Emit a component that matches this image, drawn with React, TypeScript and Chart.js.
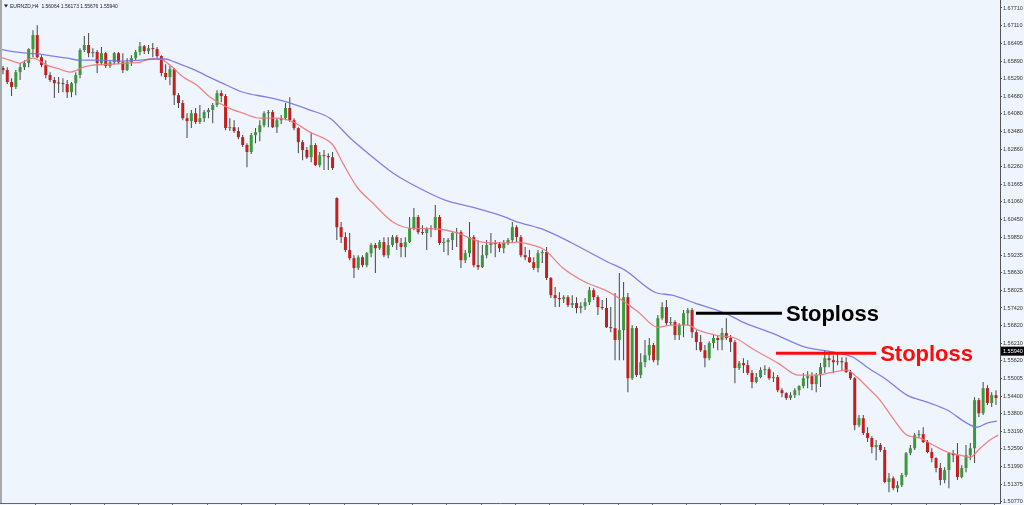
import React, { useEffect, useRef } from 'react';
import { Chart, registerables } from 'chart.js';

Chart.register(...registerables);

// ---------- header / axis text ----------
const headerSymbol = 'EURNZD,H4';
const headerQuotes = ['1.56064', '1.56173', '1.55676', '1.55940'];
const yTickLabels = [
  '1.67710', '1.67110', '1.66495', '1.65890', '1.65290', '1.64680', '1.64080', '1.63480',
  '1.62860', '1.62260', '1.61665', '1.61060', '1.60450', '1.59850', '1.59235', '1.58630',
  '1.58025', '1.57420', '1.56820', '1.56210', '1.55620', '1.55005', '1.54400', '1.53800',
  '1.53190', '1.52590', '1.51990', '1.51375', '1.50770',
];
const currentPrice = 1.5594;
const currentPriceLabel = '1.55940';

// ---------- candles (H4 EURNZD) ----------
const candleClose = [
  1.6558, 1.6517, 1.6500, 1.6551, 1.6568, 1.6582, 1.6630, 1.6678, 1.6602, 1.6575,
  1.6541, 1.6524, 1.6513, 1.6512, 1.6510, 1.6482, 1.6513, 1.6541, 1.6627, 1.6644,
  1.6616, 1.6620, 1.6582, 1.6616, 1.6572, 1.6585, 1.6616, 1.6585, 1.6558, 1.6585,
  1.6599, 1.6620, 1.6640, 1.6623, 1.6633, 1.6630, 1.6606, 1.6548, 1.6534, 1.6561,
  1.6472, 1.6445, 1.6393, 1.6383, 1.6410, 1.6380, 1.6393, 1.6414, 1.6421, 1.6438,
  1.6479, 1.6469, 1.6359, 1.6362, 1.6349, 1.6328, 1.6301, 1.6277, 1.6335, 1.6345,
  1.6369, 1.6410, 1.6414, 1.6362, 1.6386, 1.6393, 1.6428, 1.6386, 1.6359, 1.6311,
  1.6284, 1.6259, 1.6301, 1.6232, 1.6266, 1.6263, 1.6259, 1.6222, 1.6019, 1.5985,
  1.5941, 1.5913, 1.5879, 1.5916, 1.5889, 1.5930, 1.5958, 1.5947, 1.5968, 1.5923,
  1.5958, 1.5985, 1.5965, 1.5951, 1.5968, 1.6016, 1.6054, 1.6002, 1.5999, 1.6013,
  1.6016, 1.6054, 1.5965, 1.5968, 1.5975, 1.5999, 1.6002, 1.5906, 1.5930, 1.5985,
  1.5889, 1.5882, 1.5923, 1.5958, 1.5965, 1.5961, 1.5947, 1.5965, 1.5975, 1.6019,
  1.5985, 1.5923, 1.5916, 1.5899, 1.5879, 1.5930, 1.5934, 1.5845, 1.5786, 1.5776,
  1.5772, 1.5779, 1.5752, 1.5759, 1.5742, 1.5748, 1.5762, 1.5803, 1.5779, 1.5745,
  1.5742, 1.5676, 1.5673, 1.5632, 1.5666, 1.5779, 1.5501, 1.5673, 1.5512, 1.5556,
  1.5580, 1.5615, 1.5563, 1.5707, 1.5745, 1.5690, 1.5694, 1.5649, 1.5683, 1.5724,
  1.5735, 1.5659, 1.5625, 1.5597, 1.5570, 1.5622, 1.5639, 1.5632, 1.5656, 1.5639,
  1.5625, 1.5536, 1.5553, 1.5546, 1.5519, 1.5488, 1.5505, 1.5529, 1.5532, 1.5501,
  1.5505, 1.5460, 1.5450, 1.5433, 1.5443, 1.5460, 1.5474, 1.5501, 1.5508, 1.5481,
  1.5512, 1.5539, 1.5570, 1.5563, 1.5556, 1.5560, 1.5556, 1.5522, 1.5501, 1.5340,
  1.5364, 1.5313, 1.5296, 1.5265, 1.5272, 1.5255, 1.5145, 1.5158, 1.5124, 1.5134,
  1.5169, 1.5244, 1.5261, 1.5306, 1.5309, 1.5282, 1.5248, 1.5227, 1.5193, 1.5152,
  1.5186, 1.5244, 1.5237, 1.5162, 1.5193, 1.5237, 1.5261, 1.5426, 1.5381, 1.5467,
  1.5416, 1.5443, 1.5433,
];

const candleOpen = [
  1.6565, 1.6558, 1.6517, 1.6500, 1.6551, 1.6568, 1.6582, 1.6630, 1.6678, 1.6602,
  1.6575, 1.6541, 1.6524, 1.6513, 1.6512, 1.6510, 1.6482, 1.6513, 1.6541, 1.6627,
  1.6644, 1.6616, 1.6620, 1.6582, 1.6616, 1.6572, 1.6585, 1.6616, 1.6585, 1.6558,
  1.6585, 1.6599, 1.6620, 1.6640, 1.6623, 1.6633, 1.6630, 1.6606, 1.6548, 1.6534,
  1.6561, 1.6472, 1.6445, 1.6393, 1.6383, 1.6410, 1.6380, 1.6393, 1.6414, 1.6421,
  1.6438, 1.6479, 1.6469, 1.6359, 1.6362, 1.6349, 1.6328, 1.6301, 1.6277, 1.6335,
  1.6345, 1.6369, 1.6410, 1.6414, 1.6362, 1.6386, 1.6393, 1.6428, 1.6386, 1.6359,
  1.6311, 1.6284, 1.6259, 1.6301, 1.6232, 1.6266, 1.6263, 1.6259, 1.6119, 1.6019,
  1.5985, 1.5941, 1.5913, 1.5879, 1.5916, 1.5889, 1.5930, 1.5958, 1.5947, 1.5968,
  1.5923, 1.5958, 1.5985, 1.5965, 1.5951, 1.5968, 1.6016, 1.6054, 1.6002, 1.5999,
  1.6013, 1.6016, 1.6054, 1.5965, 1.5968, 1.5975, 1.5999, 1.6002, 1.5906, 1.5930,
  1.5985, 1.5889, 1.5882, 1.5923, 1.5958, 1.5965, 1.5961, 1.5947, 1.5965, 1.5975,
  1.6019, 1.5985, 1.5923, 1.5916, 1.5899, 1.5879, 1.5930, 1.5934, 1.5845, 1.5786,
  1.5776, 1.5772, 1.5779, 1.5752, 1.5759, 1.5742, 1.5748, 1.5762, 1.5803, 1.5779,
  1.5745, 1.5742, 1.5676, 1.5673, 1.5632, 1.5666, 1.5779, 1.5501, 1.5673, 1.5512,
  1.5556, 1.5580, 1.5615, 1.5563, 1.5707, 1.5745, 1.5690, 1.5694, 1.5649, 1.5683,
  1.5724, 1.5735, 1.5659, 1.5625, 1.5597, 1.5570, 1.5622, 1.5639, 1.5632, 1.5656,
  1.5639, 1.5625, 1.5536, 1.5553, 1.5546, 1.5519, 1.5488, 1.5505, 1.5529, 1.5532,
  1.5501, 1.5505, 1.5460, 1.5450, 1.5433, 1.5443, 1.5460, 1.5474, 1.5501, 1.5508,
  1.5481, 1.5512, 1.5539, 1.5570, 1.5563, 1.5556, 1.5560, 1.5556, 1.5522, 1.5501,
  1.5340, 1.5364, 1.5313, 1.5296, 1.5265, 1.5272, 1.5255, 1.5145, 1.5158, 1.5124,
  1.5134, 1.5169, 1.5244, 1.5261, 1.5306, 1.5309, 1.5282, 1.5248, 1.5227, 1.5193,
  1.5152, 1.5186, 1.5244, 1.5237, 1.5162, 1.5193, 1.5237, 1.5261, 1.5426, 1.5381,
  1.5467, 1.5416, 1.5443,
];

const candleHigh = [
  1.6572, 1.6568, 1.6530, 1.6558, 1.6582, 1.6592, 1.6633, 1.6695, 1.6712, 1.6609,
  1.6592, 1.6551, 1.6534, 1.6534, 1.6530, 1.6524, 1.6517, 1.6551, 1.6633, 1.6675,
  1.6685, 1.6633, 1.6627, 1.6637, 1.6620, 1.6592, 1.6620, 1.6620, 1.6616, 1.6599,
  1.6609, 1.6627, 1.6654, 1.6644, 1.6644, 1.6651, 1.6637, 1.6609, 1.6578, 1.6572,
  1.6565, 1.6479, 1.6455, 1.6410, 1.6421, 1.6428, 1.6438, 1.6421, 1.6428, 1.6445,
  1.6489, 1.6489, 1.6476, 1.6393, 1.6386, 1.6362, 1.6335, 1.6307, 1.6342, 1.6359,
  1.6386, 1.6417, 1.6421, 1.6421, 1.6393, 1.6404, 1.6445, 1.6465, 1.6393, 1.6362,
  1.6318, 1.6294, 1.6345, 1.6307, 1.6277, 1.6284, 1.6273, 1.6277, 1.6122, 1.6037,
  1.6002, 1.5999, 1.5923, 1.5923, 1.5923, 1.5934, 1.5965, 1.5965, 1.5975, 1.5985,
  1.5985, 1.5992, 1.5992, 1.5982, 1.5985, 1.6054, 1.6085, 1.6061, 1.6026, 1.6019,
  1.6026, 1.6095, 1.6061, 1.5982, 1.5982, 1.6002, 1.6016, 1.6009, 1.5941, 1.6037,
  1.5992, 1.5975, 1.5958, 1.5975, 1.5999, 1.5975, 1.5968, 1.5975, 1.5982, 1.6037,
  1.6026, 1.5992, 1.5951, 1.5941, 1.5916, 1.5941, 1.5941, 1.5951, 1.5848, 1.5814,
  1.5796, 1.5786, 1.5786, 1.5786, 1.5779, 1.5762, 1.5776, 1.5814, 1.5810, 1.5786,
  1.5769, 1.5776, 1.5745, 1.5793, 1.5862, 1.5831, 1.5793, 1.5683, 1.5680, 1.5587,
  1.5632, 1.5639, 1.5622, 1.5718, 1.5762, 1.5769, 1.5711, 1.5700, 1.5690, 1.5735,
  1.5742, 1.5742, 1.5666, 1.5649, 1.5615, 1.5628, 1.5649, 1.5646, 1.5673, 1.5707,
  1.5649, 1.5632, 1.5560, 1.5570, 1.5563, 1.5529, 1.5519, 1.5539, 1.5546, 1.5539,
  1.5522, 1.5512, 1.5467, 1.5453, 1.5453, 1.5467, 1.5477, 1.5519, 1.5525, 1.5522,
  1.5519, 1.5553, 1.5597, 1.5591, 1.5580, 1.5587, 1.5573, 1.5573, 1.5529, 1.5505,
  1.5375, 1.5375, 1.5333, 1.5302, 1.5289, 1.5279, 1.5265, 1.5176, 1.5165, 1.5148,
  1.5176, 1.5248, 1.5272, 1.5313, 1.5323, 1.5333, 1.5289, 1.5261, 1.5230, 1.5210,
  1.5196, 1.5248, 1.5255, 1.5279, 1.5203, 1.5272, 1.5279, 1.5436, 1.5433, 1.5488,
  1.5477, 1.5453, 1.5460,
];

const candleLow = [
  1.6544, 1.6510, 1.6469, 1.6493, 1.6524, 1.6558, 1.6568, 1.6602, 1.6599, 1.6568,
  1.6530, 1.6517, 1.6462, 1.6479, 1.6482, 1.6462, 1.6465, 1.6472, 1.6530, 1.6620,
  1.6602, 1.6602, 1.6548, 1.6575, 1.6565, 1.6565, 1.6578, 1.6578, 1.6548, 1.6555,
  1.6572, 1.6592, 1.6609, 1.6613, 1.6613, 1.6602, 1.6599, 1.6537, 1.6524, 1.6506,
  1.6438, 1.6428, 1.6386, 1.6325, 1.6359, 1.6373, 1.6373, 1.6380, 1.6393, 1.6376,
  1.6431, 1.6448, 1.6352, 1.6349, 1.6342, 1.6321, 1.6294, 1.6225, 1.6270, 1.6307,
  1.6314, 1.6362, 1.6362, 1.6359, 1.6342, 1.6373, 1.6386, 1.6380, 1.6352, 1.6273,
  1.6249, 1.6253, 1.6242, 1.6229, 1.6225, 1.6215, 1.6215, 1.6215, 1.5975, 1.5965,
  1.5934, 1.5906, 1.5845, 1.5872, 1.5882, 1.5882, 1.5916, 1.5862, 1.5941, 1.5916,
  1.5913, 1.5951, 1.5941, 1.5916, 1.5916, 1.5965, 1.6009, 1.5995, 1.5992, 1.5941,
  1.5985, 1.6009, 1.5958, 1.5934, 1.5923, 1.5941, 1.5951, 1.5879, 1.5896, 1.5916,
  1.5882, 1.5872, 1.5879, 1.5913, 1.5930, 1.5916, 1.5934, 1.5930, 1.5958, 1.5968,
  1.5968, 1.5916, 1.5906, 1.5896, 1.5872, 1.5865, 1.5896, 1.5838, 1.5776, 1.5745,
  1.5745, 1.5759, 1.5745, 1.5742, 1.5724, 1.5724, 1.5735, 1.5752, 1.5769, 1.5718,
  1.5735, 1.5673, 1.5659, 1.5563, 1.5563, 1.5563, 1.5453, 1.5495, 1.5505, 1.5501,
  1.5539, 1.5563, 1.5556, 1.5546, 1.5700, 1.5683, 1.5683, 1.5632, 1.5632, 1.5642,
  1.5683, 1.5639, 1.5597, 1.5591, 1.5539, 1.5563, 1.5604, 1.5597, 1.5597, 1.5632,
  1.5591, 1.5484, 1.5529, 1.5519, 1.5512, 1.5467, 1.5484, 1.5501, 1.5512, 1.5495,
  1.5488, 1.5453, 1.5436, 1.5426, 1.5426, 1.5433, 1.5443, 1.5467, 1.5467, 1.5460,
  1.5453, 1.5471, 1.5519, 1.5539, 1.5519, 1.5546, 1.5529, 1.5519, 1.5495, 1.5323,
  1.5333, 1.5306, 1.5282, 1.5244, 1.5220, 1.5248, 1.5141, 1.5110, 1.5117, 1.5110,
  1.5128, 1.5162, 1.5237, 1.5255, 1.5296, 1.5279, 1.5244, 1.5213, 1.5179, 1.5134,
  1.5141, 1.5124, 1.5213, 1.5152, 1.5158, 1.5179, 1.5220, 1.5210, 1.5368, 1.5375,
  1.5409, 1.5402, 1.5409,
];

// ---------- moving averages (x = bar number) ----------
const maSlowBar = [
  -0.6, 1.6, 5.6, 8.6, 11.7, 15.0, 18.0, 22.7, 27.3, 32.0,
  35.5, 37.9, 40.2, 42.5, 44.9, 47.2, 50.7, 56.1, 61.7, 66.4,
  71.7, 76.4, 81.1, 86.4, 91.1, 95.1, 103.3, 109.6, 117.3, 119.6,
  126.6, 132.9, 141.4, 145.3, 152.3, 156.3, 161.7, 168.7, 173.4, 179.7,
  187.4, 193.9, 198.6, 201.9, 206.5, 211.2, 215.9, 220.6, 225.2, 227.6,
  229.9, 232.2,
];
const maSlowValue = [
  1.6630, 1.6623, 1.6616, 1.6613, 1.6606, 1.6599, 1.6592, 1.6592, 1.6589, 1.6592,
  1.6596, 1.6596, 1.6585, 1.6572, 1.6558, 1.6541, 1.6517, 1.6482, 1.6465, 1.6448,
  1.6421, 1.6393, 1.6325, 1.6259, 1.6205, 1.6170, 1.6112, 1.6088, 1.6054, 1.6040,
  1.6009, 1.5965, 1.5899, 1.5872, 1.5796, 1.5786, 1.5759, 1.5724, 1.5690, 1.5656,
  1.5608, 1.5591, 1.5573, 1.5539, 1.5495, 1.5443, 1.5419, 1.5392, 1.5347, 1.5333,
  1.5347, 1.5354,
];
const maFastBar = [
  -0.6, 1.6, 4.0, 5.6, 7.0, 8.6, 10.3, 13.3, 15.7, 17.3,
  18.7, 21.0, 25.0, 29.0, 32.0, 34.3, 36.7, 39.0, 42.1, 45.3,
  48.4, 52.3, 56.1, 60.0, 64.0, 67.8, 71.7, 75.7, 77.1, 79.4,
  82.7, 86.4, 91.1, 95.1, 101.6, 106.3, 111.9, 117.3, 120.3, 123.6,
  126.6, 130.6, 136.0, 140.7, 144.6, 148.4, 153.0, 156.3, 160.0, 162.4,
  166.4, 171.0, 175.7, 181.1, 185.7, 190.2, 193.9, 197.2, 199.5, 201.9,
  204.9, 207.9, 211.2, 214.3, 217.3, 220.6, 223.6, 225.9, 228.3, 230.6,
  232.5,
];
const maFastValue = [
  1.6602, 1.6592, 1.6582, 1.6592, 1.6599, 1.6589, 1.6575, 1.6561, 1.6551, 1.6558,
  1.6568, 1.6575, 1.6578, 1.6582, 1.6585, 1.6596, 1.6596, 1.6575, 1.6534, 1.6506,
  1.6465, 1.6431, 1.6410, 1.6393, 1.6393, 1.6380, 1.6345, 1.6318, 1.6301, 1.6239,
  1.6157, 1.6102, 1.6037, 1.6016, 1.6013, 1.5999, 1.5968, 1.5965, 1.5968, 1.5958,
  1.5941, 1.5882, 1.5831, 1.5803, 1.5769, 1.5728, 1.5676, 1.5683, 1.5683, 1.5666,
  1.5649, 1.5639, 1.5597, 1.5553, 1.5512, 1.5512, 1.5522, 1.5529, 1.5505, 1.5471,
  1.5426, 1.5364, 1.5306, 1.5296, 1.5272, 1.5248, 1.5237, 1.5230, 1.5261, 1.5289,
  1.5306,
];

// ---------- stoploss annotations ----------
const stoplossText = ['Stoploss', 'Stoploss'];
const stoplossPrice = [1.5724, 1.5587];
const stoplossFromBar = [161.9, 180.6];
const stoplossToBar = [182.0, 204.0];
const stoplossColor = ['#000000', '#ff0a0a'];

// ---------- styling ----------
const BG = '#eff5fc';
const BULL = '#3b983b';
const BEAR = '#c41f1f';
const WICK = '#444444';
const FONT = "'Liberation Sans', Arial, sans-serif";

const overlayPlugin = {
  id: 'overlay',
  beforeDraw(chart: any) {
    const { ctx, width, height } = chart;
    ctx.save();
    ctx.fillStyle = BG;
    ctx.fillRect(0, 0, width, height);
    ctx.restore();
  },
  afterDatasetsDraw(chart: any) {
    const { ctx, chartArea } = chart;
    const xs = chart.scales.x;
    const ys = chart.scales.y;
    ctx.save();
    // left frame
    ctx.fillStyle = '#a9a9a9';
    ctx.fillRect(0, 0, 2, chartArea.bottom);
    // header
    ctx.fillStyle = '#222';
    ctx.beginPath();
    ctx.moveTo(4, 4.5);
    ctx.lineTo(8, 4.5);
    ctx.lineTo(6, 7.5);
    ctx.closePath();
    ctx.fill();
    ctx.font = `5px ${FONT}`;
    ctx.textBaseline = 'alphabetic';
    ctx.fillText(headerSymbol + '  ' + headerQuotes.join(' '), 10, 8);
    // stoploss annotations
    for (let i = 0; i < stoplossText.length; i++) {
      const x1 = xs.getPixelForValue(stoplossFromBar[i]);
      const x2 = xs.getPixelForValue(stoplossToBar[i]);
      const py = ys.getPixelForValue(stoplossPrice[i]);
      ctx.strokeStyle = stoplossColor[i];
      ctx.lineWidth = 3;
      ctx.beginPath();
      ctx.moveTo(x1, py);
      ctx.lineTo(x2, py);
      ctx.stroke();
      ctx.fillStyle = stoplossColor[i];
      ctx.font = `bold 22px ${FONT}`;
      ctx.textBaseline = 'alphabetic';
      ctx.fillText(stoplossText[i], x2 + 4, py + 7.8);
    }
    ctx.restore();
  },
  afterDraw(chart: any) {
    const { ctx, chartArea } = chart;
    const ys = chart.scales.y;
    const py = ys.getPixelForValue(currentPrice);
    ctx.save();
    ctx.fillStyle = '#000';
    ctx.fillRect(chartArea.right + 1, py - 4.5, 23, 9);
    ctx.fillStyle = '#fff';
    ctx.font = `5.5px ${FONT}`;
    ctx.textBaseline = 'middle';
    ctx.fillText(currentPriceLabel, chartArea.right + 3, py + 0.5);
    ctx.restore();
  },
};

export default function App() {
  const canvasRef = useRef<HTMLCanvasElement | null>(null);

  useEffect(() => {
    document.body.style.margin = '0';
    document.body.style.background = BG;
    const canvas = canvasRef.current;
    if (!canvas) return;

    const bars = candleClose.map((_, i) => i);
    const yTickValues = yTickLabels.map((s) => parseFloat(s));
    const xTickValues = Array.from({ length: 29 }, (_, k) => 7.7 + 8 * k);

    const chart = new Chart(canvas, {
      type: 'bar',
      data: {
        datasets: [
          {
            type: 'line',
            label: 'MA slow',
            data: maSlowBar.map((b, i) => ({ x: b, y: maSlowValue[i] })),
            borderColor: 'rgba(115,115,228,0.9)',
            borderWidth: 1.3,
            pointRadius: 0,
            cubicInterpolationMode: 'monotone',
            order: 1,
          },
          {
            type: 'line',
            label: 'MA fast',
            data: maFastBar.map((b, i) => ({ x: b, y: maFastValue[i] })),
            borderColor: 'rgba(240,120,120,0.9)',
            borderWidth: 1.3,
            pointRadius: 0,
            cubicInterpolationMode: 'monotone',
            order: 1,
          },
          {
            type: 'bar',
            label: 'bodies',
            data: bars.map((i) => ({ x: i, y: [candleOpen[i], candleClose[i]] })),
            backgroundColor: (c: any) =>
              candleClose[c.dataIndex] >= candleOpen[c.dataIndex] ? BULL : BEAR,
            borderWidth: 0,
            barThickness: 3,
            minBarLength: 1,
            grouped: false,
            inflateAmount: 0,
            order: 2,
          } as any,
          {
            type: 'bar',
            label: 'wicks',
            data: bars.map((i) => ({ x: i, y: [candleLow[i], candleHigh[i]] })),
            backgroundColor: WICK,
            borderWidth: 0,
            barThickness: 1,
            grouped: false,
            inflateAmount: 0,
            order: 3,
          } as any,
        ],
      },
      options: {
        responsive: false,
        animation: false,
        devicePixelRatio: 1,
        layout: { padding: 0 },
        plugins: { legend: { display: false }, tooltip: { enabled: false } },
        events: [],
        scales: {
          x: {
            type: 'linear',
            min: -0.7,
            max: 232.94,
            offset: false,
            afterBuildTicks: (s: any) => {
              s.ticks = xTickValues.map((v) => ({ value: v }));
            },
            afterFit: (s: any) => {
              s.height = 2;
              s.paddingLeft = 0;
              s.paddingRight = 0;
            },
            ticks: { display: false },
            grid: { drawOnChartArea: false, tickLength: 2, color: '#666', offset: false },
            border: { display: true, color: '#666' },
          },
          y: {
            type: 'linear',
            position: 'right',
            min: 1.50731,
            max: 1.67984,
            afterBuildTicks: (s: any) => {
              s.ticks = yTickValues.map((v) => ({ value: v }));
            },
            afterFit: (s: any) => {
              s.width = 24;
              s.paddingTop = 0;
              s.paddingBottom = 0;
            },
            ticks: {
              callback: (_v: any, i: number) => yTickLabels[i],
              font: { size: 5.5, family: FONT },
              color: '#333',
              padding: 1,
              autoSkip: false,
            },
            grid: { drawOnChartArea: false, tickLength: 2, color: '#555' },
            border: { display: true, color: '#555' },
          },
        },
      } as any,
      plugins: [overlayPlugin],
    });

    return () => chart.destroy();
  }, []);

  return (
    <div style={{ position: 'fixed', left: 0, top: 0, width: 1024, height: 505, background: BG }}>
      <canvas ref={canvasRef} width={1024} height={505} style={{ display: 'block' }} />
    </div>
  );
}
